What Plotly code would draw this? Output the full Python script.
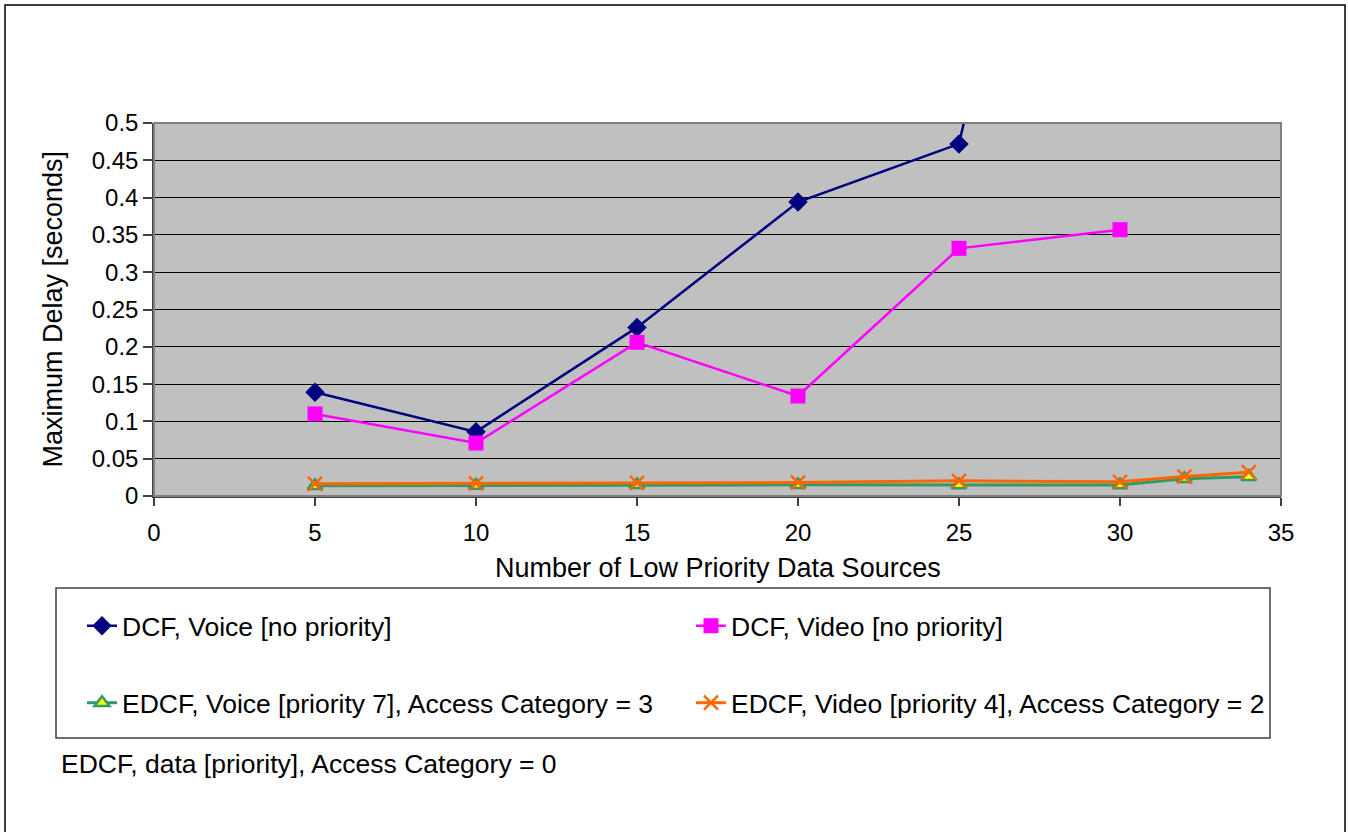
import plotly.graph_objects as go

# ---------------- data ----------------
x_dcf = [5, 10, 15, 20, 25, 30]
dcf_voice = [0.139, 0.086, 0.226, 0.394, 0.472, 1.41]
x_dcf_video = [5, 10, 15, 20, 25, 30]
dcf_video = [0.110, 0.071, 0.206, 0.134, 0.332, 0.357]
x_edcf = [5, 10, 15, 20, 25, 30, 32, 34]
edcf_voice = [0.0137, 0.0142, 0.0150, 0.0150, 0.0146, 0.0146, 0.0230, 0.0257]
edcf_video = [0.0164, 0.0168, 0.0177, 0.0180, 0.0204, 0.0190, 0.0260, 0.0320]

names = [
    "DCF, Voice [no priority]",
    "DCF, Video [no priority]",
    "EDCF, Voice [priority 7], Access Category = 3",
    "EDCF, Video [priority 4], Access Category = 2",
]
extra_legend_text = "EDCF, data [priority], Access Category = 0"
x_title = "Number of Low Priority Data Sources"
y_title = "Maximum Delay [seconds]"

# ---------------- layout geometry (pixels) ----------------
W, H = 1348, 832
L, R, T, B = 154, 1281, 123, 496
PW, PH = R - L, B - T


def px(xp):
    return (xp - L) / PW


def py(yp):
    return (B - yp) / PH


FONT = "Liberation Sans, Arial, sans-serif"
TXT = 27
LEG = 26.5

fig = go.Figure()

fig.add_trace(go.Scatter(
    x=x_dcf, y=dcf_voice, name=names[0], mode="lines+markers",
    line=dict(color="#000080", width=2.5),
    marker=dict(symbol="diamond", size=15, color="#000080"),
    legend="legend",
))
fig.add_trace(go.Scatter(
    x=x_dcf_video, y=dcf_video, name=names[1], mode="lines+markers",
    line=dict(color="#FF00FF", width=2.5),
    marker=dict(symbol="square", size=15, color="#FF00FF"),
    legend="legend2",
))
fig.add_trace(go.Scatter(
    x=x_edcf, y=edcf_voice, name=names[2], mode="lines+markers",
    line=dict(color="#339966", width=3),
    marker=dict(symbol="triangle-up", size=13, color="#FFFF00",
                line=dict(color="#339966", width=2.5)),
    legend="legend3",
))
fig.add_trace(go.Scatter(
    x=x_edcf, y=edcf_video, name=names[3], mode="lines+markers",
    line=dict(color="#FF6600", width=3),
    marker=dict(symbol="x-thin-open", size=14, color="#FF6600",
                line=dict(color="#FF6600", width=2.5)),
    legend="legend4",
))

legend_common = dict(font=dict(family=FONT, size=LEG, color="black"),
                     bgcolor="rgba(0,0,0,0)", borderwidth=0,
                     xanchor="left", yanchor="middle")
col1_x = px(82)
col2_x = px(691)
row1_y = py(626)
row2_y = py(703)

shapes = [
    # outer chart border
    dict(type="rect", xref="paper", yref="paper",
         x0=px(5), x1=px(1345), y0=py(840), y1=py(5),
         line=dict(color="black", width=1.5), layer="below"),
    # plot area frame
    dict(type="rect", xref="paper", yref="paper", x0=0, x1=1, y0=0, y1=1,
         line=dict(color="#808080", width=2), layer="above"),
    # legend box
    dict(type="rect", xref="paper", yref="paper",
         x0=px(56), x1=px(1270), y0=py(738), y1=py(588),
         line=dict(color="#404040", width=1.5)),
]

annotations = [
    dict(text=x_title, xref="paper", yref="paper", x=0.5, y=0,
         yshift=-(568 - B), showarrow=False, xanchor="center", yanchor="middle",
         font=dict(family=FONT, size=TXT, color="black")),
    dict(text=y_title, xref="paper", yref="paper", x=0, y=0.5,
         xshift=-(L - 52), showarrow=False, xanchor="center", yanchor="middle",
         textangle=-90, font=dict(family=FONT, size=TXT, color="black")),
    dict(text=extra_legend_text, xref="paper", yref="paper", x=px(59), y=py(764),
         showarrow=False, xanchor="left", yanchor="middle",
         font=dict(family=FONT, size=LEG, color="black")),
]

fig.update_layout(
    width=W, height=H,
    margin=dict(l=L, r=W - R, t=T, b=H - B, pad=0),
    paper_bgcolor="white",
    plot_bgcolor="#C0C0C0",
    font=dict(family=FONT, size=24, color="black"),
    showlegend=True,
    legend=dict(x=col1_x, y=row1_y, **legend_common),
    legend2=dict(x=col2_x, y=row1_y, **legend_common),
    legend3=dict(x=col1_x, y=row2_y, **legend_common),
    legend4=dict(x=col2_x, y=row2_y, **legend_common),
    shapes=shapes,
    annotations=annotations,
    xaxis=dict(range=[0, 35], dtick=5, tick0=0, showgrid=False, zeroline=False,
               showline=True, linecolor="#404040", linewidth=1.5,
               ticks="outside", ticklen=8, tickcolor="#404040", tickwidth=1.5,
               ticklabelstandoff=6,
               tickfont=dict(family=FONT, size=24, color="black"),
               fixedrange=True),
    yaxis=dict(range=[0, 0.5], dtick=0.05, tick0=0, showgrid=True,
               gridcolor="black", gridwidth=1, zeroline=False,
               showline=True, linecolor="#404040", linewidth=1.5,
               ticks="outside", ticklen=9, tickcolor="#404040", tickwidth=1.5,
               tickfont=dict(family=FONT, size=24, color="black"),
               fixedrange=True),
)

fig.write_html(
    "out.html",
    config={"displayModeBar": False},
    post_script="document.body.style.margin='0px';document.body.style.overflow='hidden';",
)
